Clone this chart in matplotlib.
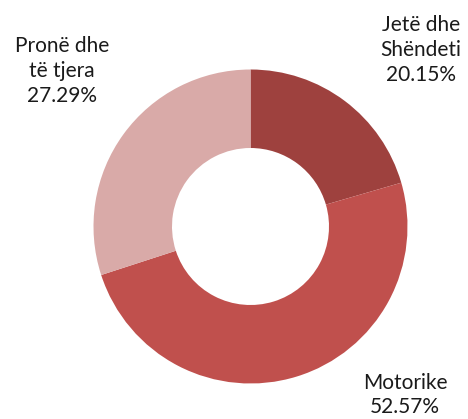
import matplotlib.pyplot as plt

# Data (slice sizes; label texts as printed on it)
labels = ["Jetë dhe\nShëndeti", "Motorike", "Pronë dhe\ntë tjera"]
label_values = ["20.15%", "52.57%", "27.29%"]
slice_sizes = [20.5, 49.5, 30.0]
colors = ["#9E413E", "#C0504D", "#D9AAA8"]

plt.rcParams["font.family"] = ["Lato", "DejaVu Sans"]

fig = plt.figure(figsize=(4.68, 4.19), dpi=100)
ax = fig.add_axes([0, 0, 1, 1])

ax.pie(slice_sizes, colors=colors, startangle=90, counterclock=False,
       center=(250.5, 192.5), radius=157, frame=True,
       wedgeprops=dict(width=78.5, linewidth=0))
ax.set_xlim(0, 468)
ax.set_ylim(0, 419)
ax.set_aspect("equal")
ax.axis("off")

# Data labels placed like the original chart
label_pos = [(421, 369), (405, 24), (62, 348)]
for lab, val, (x, y) in zip(labels, label_values, label_pos):
    ax.text(x, y, f"{lab}\n{val}", ha="center", va="center",
            fontsize=15, linespacing=1.3, color="#1a1a1a")

fig.savefig("out.png", dpi=100)
